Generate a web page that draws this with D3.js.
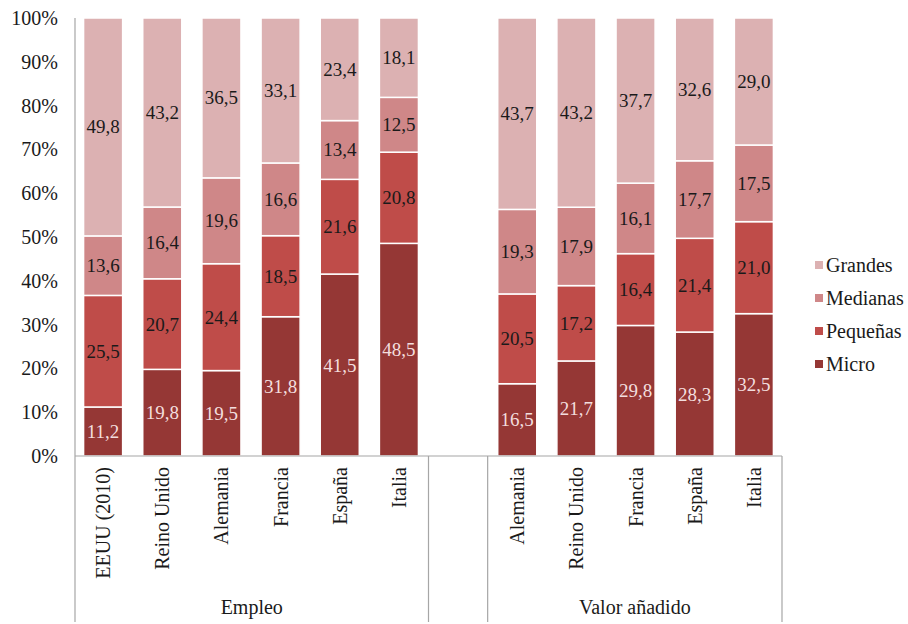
<!DOCTYPE html>
<html><head><meta charset="utf-8">
<script src="https://cdn.jsdelivr.net/npm/d3@7"></script>
<style>body{margin:0;background:#fff} text{font-family:"Liberation Serif","Times New Roman",serif}</style>
</head><body><svg id="c" width="908" height="624"></svg>
<script>
const groups = ["Empleo", "Valor añadido"];
const empleoCountries = ["EEUU (2010)", "Reino Unido", "Alemania", "Francia", "España", "Italia"];
const vaCountries = ["Alemania", "Reino Unido", "Francia", "España", "Italia"];
const seriesNames = ["Micro", "Pequeñas", "Medianas", "Grandes"];
const seriesColors = ["#953735", "#bf4c49", "#cf8788", "#dcb1b2"];
const labelColors = ["#f3dede", "#1a1a1a", "#1a1a1a", "#1a1a1a"];
// Empleo values
const empMicro    = [11.2, 19.8, 19.5, 31.8, 41.5, 48.5];
const empPequenas = [25.5, 20.7, 24.4, 18.5, 21.6, 20.8];
const empMedianas = [13.6, 16.4, 19.6, 16.6, 13.4, 12.5];
const empGrandes  = [49.8, 43.2, 36.5, 33.1, 23.4, 18.1];
// Valor añadido values
const vaMicro    = [16.5, 21.7, 29.8, 28.3, 32.5];
const vaPequenas = [20.5, 17.2, 16.4, 21.4, 21.0];
const vaMedianas = [19.3, 17.9, 16.1, 17.7, 17.5];
const vaGrandes  = [43.7, 43.2, 37.7, 32.6, 29.0];
const yTicks = [0, 0.1, 0.2, 0.3, 0.4, 0.5, 0.6, 0.7, 0.8, 0.9, 1.0];

(function () {
const font = "'Liberation Serif', 'Times New Roman', serif";
const rows = [];
empleoCountries.forEach((c, i) => rows.push({key: "E|" + c, name: c, Micro: empMicro[i], "Pequeñas": empPequenas[i], Medianas: empMedianas[i], Grandes: empGrandes[i]}));
const gapKey = "gap";
vaCountries.forEach((c, i) => rows.push({key: "V|" + c, name: c, Micro: vaMicro[i], "Pequeñas": vaPequenas[i], Medianas: vaMedianas[i], Grandes: vaGrandes[i]}));

const domain = rows.slice(0, 6).map(d => d.key).concat([gapKey]).concat(rows.slice(6).map(d => d.key));

const mLeft = 75, mRight = 782, mTop = 18, mBottom = 456;
const svg = d3.select("#c");

const x = d3.scaleBand().domain(domain).range([mLeft, mRight]).paddingInner(0.34).paddingOuter(0.145);
const y = d3.scaleLinear().domain([0, 1]).range([mBottom, mTop]);
const color = d3.scaleOrdinal().domain(seriesNames).range(seriesColors);

const stack = d3.stack().keys(seriesNames).offset(d3.stackOffsetExpand);
const stacked = stack(rows);

const gBars = svg.append("g");
stacked.forEach((layer, li) => {
  gBars.selectAll(null).data(layer).join("rect")
    .attr("x", d => x(d.data.key))
    .attr("width", x.bandwidth())
    .attr("y", d => y(d[1]))
    .attr("height", d => y(d[0]) - y(d[1]))
    .attr("fill", color(layer.key))
    .attr("stroke", "#fff").attr("stroke-width", 1.5);
  gBars.selectAll(null).data(layer).join("text")
    .attr("x", d => x(d.data.key) + x.bandwidth() / 2)
    .attr("y", d => (y(d[0]) + y(d[1])) / 2)
    .attr("text-anchor", "middle").attr("dominant-baseline", "central")
    .attr("font-family", font).attr("font-size", 19)
    .attr("fill", labelColors[li])
    .text(d => d.data[layer.key].toFixed(1).replace(".", ","));
});
const axisColor = "#a6a6a6";
svg.append("line").attr("x1", mLeft).attr("x2", mLeft).attr("y1", mTop).attr("y2", 622).attr("stroke", axisColor).attr("stroke-width", 1.2);
svg.append("line").attr("x1", mLeft).attr("x2", mRight).attr("y1", mBottom).attr("y2", mBottom).attr("stroke", axisColor).attr("stroke-width", 1.2);
const gapStart = x(gapKey) - x.step() * x.paddingInner() / 2;
const gapEnd = gapStart + x.step();
[gapStart, gapEnd, mRight].forEach(xx => {
  svg.append("line").attr("x1", xx).attr("x2", xx).attr("y1", mBottom).attr("y2", 622).attr("stroke", axisColor).attr("stroke-width", 1.2);
});

const yAxis = d3.axisLeft(y).tickValues(yTicks).tickFormat(d3.format(".0%")).tickSize(0).tickPadding(17);
const ga = svg.append("g").attr("transform", `translate(${mLeft},0)`).call(yAxis);
ga.select(".domain").remove();
ga.attr("font-family", font);
ga.selectAll("text").attr("font-family", font).attr("font-size", 20).attr("fill", "#1a1a1a");

svg.selectAll(null).data(rows).join("text")
  .attr("transform", d => `translate(${x(d.key) + x.bandwidth() / 2 + 7},467) rotate(-90)`)
  .attr("text-anchor", "end")
  .attr("font-family", font).attr("font-size", 20).attr("fill", "#1a1a1a")
  .text(d => d.name);

svg.append("text").attr("x", (mLeft + gapStart) / 2).attr("y", 609).attr("text-anchor", "middle")
  .attr("font-family", font).attr("font-size", 20).attr("fill", "#1a1a1a").attr("dominant-baseline", "middle").text(groups[0]);
svg.append("text").attr("x", (gapEnd + mRight) / 2).attr("y", 609).attr("text-anchor", "middle")
  .attr("font-family", font).attr("font-size", 20).attr("fill", "#1a1a1a").attr("dominant-baseline", "middle").text(groups[1]);

const legendOrder = seriesNames.slice().reverse();
const lg = svg.append("g");
legendOrder.forEach((s, i) => {
  const yy = 265 + i * 33;
  lg.append("rect").attr("x", 815).attr("y", yy - 4).attr("width", 8).attr("height", 8).attr("fill", color(s));
  lg.append("text").attr("x", 826).attr("y", yy).attr("dominant-baseline", "central")
    .attr("font-family", font).attr("font-size", 20).attr("fill", "#1a1a1a").text(s);
});
})();
</script></body></html>
